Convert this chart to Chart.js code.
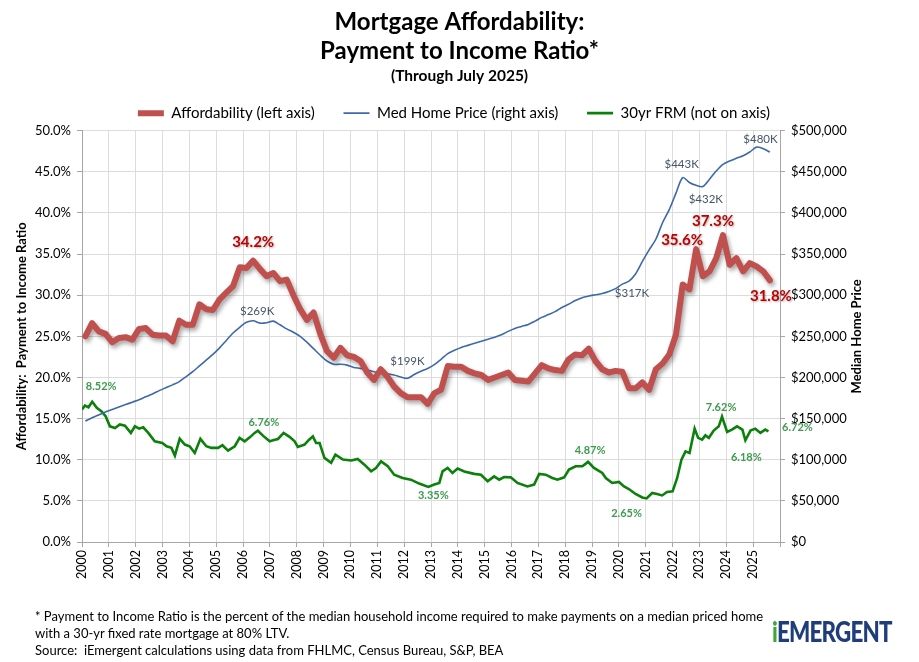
<!DOCTYPE html>
<html>
<head>
<meta charset="utf-8">
<script src="https://cdn.jsdelivr.net/npm/chart.js@4.4.1/dist/chart.umd.min.js"></script>
<style>
  html, body { margin: 0; padding: 0; background: #fff; }
  #wrap { position: relative; width: 919px; height: 662px; font-family: Lato, "Open Sans", sans-serif; }
  #chart { position: absolute; left: 0; top: 0; }
  .note { position: absolute; left: 35px; top: 608px; font-size: 13px; line-height: 17px; color: #000; }
  .logo { position: absolute; left: 772px; top: 614px; font-size: 28px; font-weight: 900; color: #1F3D7A;
          letter-spacing: -1px; transform: scaleX(0.8); transform-origin: left top; }
  .logo span { color: #3BAA35; }
</style>
</head>
<body>
<div id="wrap">
  <canvas id="chart" width="919" height="662"></canvas>
  <div class="note">* Payment to Income Ratio is the percent of the median household income required to make payments on a median priced home<br>with a 30-yr fixed rate mortgage at 80% LTV.<br>Source:&nbsp; iEmergent calculations using data from FHLMC, Census Bureau, S&amp;P, BEA</div>
  <div class="logo"><span>i</span>EMERGENT</div>
</div>
<script>
// quarterly series (affordability % and median home price in $K)
const quarters = Array.from({length: 103}, (_, i) => 2000.125 + i * 0.25);

const affordability = [
  25.0, 26.6, 25.6, 25.3, 24.3, 24.8, 24.9, 24.6, 25.9, 26.0,
  25.2, 25.1, 25.1, 24.4, 26.9, 26.4, 26.4, 28.9, 28.3, 28.2,
  29.5, 30.3, 31.1, 33.4, 33.3, 34.2, 33.2, 32.3, 32.7, 31.7,
  31.9, 30.0, 28.3, 27.0, 27.9, 25.3, 23.2, 22.4, 23.6, 22.7,
  22.5, 22.0, 20.6, 19.7, 21.0, 20.1, 18.9, 18.1, 17.6, 17.6,
  17.6, 16.8, 18.1, 18.5, 21.4, 21.3, 21.3, 20.8, 20.5, 20.3,
  19.7, 20.0, 20.3, 20.6, 19.7, 19.6, 19.5, 20.5, 21.5, 21.1,
  20.9, 20.8, 22.2, 22.8, 22.7, 23.5, 22.0, 21.0, 20.6, 20.8,
  20.7, 18.7, 18.7, 19.4, 18.5, 21.0, 21.7, 22.8, 25.2, 31.3,
  30.7, 35.6, 32.3, 32.9, 34.5, 37.3, 33.7, 34.5, 32.9, 33.9,
  33.5, 32.9, 31.8
];

const homePriceK = [
  147, 151, 154.5, 158, 161, 164, 167, 170, 173, 176.5,
  180, 184, 187.5, 191, 195, 201, 207, 214, 221, 228,
  236, 245, 254, 261, 267, 269, 266, 266.5, 268.5, 264,
  259, 255, 250, 243, 235, 227, 220, 216, 216, 215,
  212, 211, 209, 207, 205.5, 204.5, 203, 200.5, 199, 203.5,
  207.5, 211, 215.5, 222, 229, 233, 236.5, 239, 241.5, 244,
  246.5, 249, 252, 256, 259.5, 262, 264.5, 268.5, 273, 276.5,
  280, 285, 289, 293.5, 297, 299, 300.5, 302, 304.5, 308,
  313.5, 317, 326, 341, 355, 368, 388, 404, 424, 443,
  437, 433.5, 432, 441, 451, 459, 463, 466.5, 469.5, 474,
  480, 478, 474
];

// 30yr fixed mortgage rate, %
const frmDates = [
  2000.00, 2000.11, 2000.24, 2000.38, 2000.55, 2000.73, 2000.88, 2001.04, 2001.23, 2001.41,
  2001.60, 2001.82, 2001.97, 2002.13, 2002.28, 2002.47, 2002.71, 2002.99, 2003.15, 2003.33,
  2003.46, 2003.64, 2003.83, 2004.01, 2004.20, 2004.41, 2004.63, 2004.82, 2005.07, 2005.23,
  2005.44, 2005.69, 2005.87, 2006.06, 2006.25, 2006.43, 2006.55, 2006.75, 2006.99, 2007.15,
  2007.30, 2007.51, 2007.73, 2007.92, 2008.04, 2008.29, 2008.45, 2008.60, 2008.72, 2008.85,
  2009.03, 2009.28, 2009.44, 2009.72, 2010.03, 2010.27, 2010.52, 2010.77, 2010.95, 2011.14,
  2011.39, 2011.63, 2011.94, 2012.25, 2012.56, 2012.90, 2013.12, 2013.31, 2013.43, 2013.62,
  2013.80, 2013.99, 2014.24, 2014.61, 2014.86, 2015.11, 2015.35, 2015.54, 2015.72, 2015.97,
  2016.22, 2016.59, 2016.84, 2017.03, 2017.27, 2017.52, 2017.71, 2017.96, 2018.14, 2018.39,
  2018.64, 2018.85, 2019.07, 2019.38, 2019.51, 2019.75, 2020.00, 2020.19, 2020.37, 2020.62,
  2020.87, 2021.03, 2021.24, 2021.42, 2021.61, 2021.79, 2022.00, 2022.17, 2022.33, 2022.48,
  2022.63, 2022.82, 2022.95, 2023.10, 2023.22, 2023.35, 2023.53, 2023.72, 2023.84, 2024.03,
  2024.21, 2024.40, 2024.60, 2024.71, 2024.90, 2025.08, 2025.27, 2025.45, 2025.57
];
const frmRates = [
  8.05, 8.29, 8.19, 8.52, 8.15, 7.94, 7.64, 7.03, 6.93, 7.14,
  7.07, 6.63, 7.03, 6.89, 6.97, 6.63, 6.12, 6.02, 5.82, 5.72,
  5.25, 6.28, 5.92, 5.82, 5.41, 6.27, 5.82, 5.72, 5.72, 5.88,
  5.55, 5.82, 6.33, 6.12, 6.36, 6.63, 6.76, 6.45, 6.12, 6.20,
  6.26, 6.63, 6.39, 6.12, 5.78, 5.92, 6.20, 6.42, 6.02, 6.02,
  5.11, 4.81, 5.31, 5.01, 4.95, 5.05, 4.70, 4.30, 4.50, 4.90,
  4.60, 4.09, 3.89, 3.79, 3.55, 3.35, 3.49, 3.59, 4.29, 4.50,
  4.20, 4.46, 4.29, 4.14, 4.09, 3.69, 3.99, 3.79, 3.95, 3.93,
  3.59, 3.38, 3.49, 4.14, 4.09, 3.89, 3.79, 3.93, 4.40, 4.60,
  4.60, 4.87, 4.50, 4.20, 3.89, 3.59, 3.65, 3.38, 3.22, 2.92,
  2.71, 2.65, 2.98, 2.92, 2.83, 3.04, 3.08, 3.89, 5.01, 5.51,
  5.41, 6.89, 6.33, 6.22, 6.48, 6.33, 6.77, 7.03, 7.62, 6.69,
  6.83, 7.03, 6.83, 6.18, 6.77, 6.89, 6.63, 6.83, 6.72
];

const seriesNames = ['Affordability (left axis)', 'Med Home Price (right axis)', '30yr FRM (not on axis)'];

const FONT = 'Lato, "Open Sans", sans-serif';

// shadow under the thick affordability line
const lineShadow = {
  id: 'lineShadow',
  beforeDatasetDraw(chart, args) {
    if (args.index !== 0) return;
    const ctx = chart.ctx;
    ctx.save();
    ctx.shadowColor = 'rgba(0,0,0,0.35)';
    ctx.shadowBlur = 4;
    ctx.shadowOffsetX = 2;
    ctx.shadowOffsetY = 3;
  },
  afterDatasetDraw(chart, args) {
    if (args.index !== 0) return;
    chart.ctx.restore();
  }
};

// callouts: anchored on a data point, text comes from the value
const callouts = [
  {ds: 0, x: 2006.375, dx: 0, dy: -18},
  {ds: 0, x: 2022.875, dx: -14, dy: -9},
  {ds: 0, x: 2023.875, dx: -10, dy: -14},
  {ds: 0, x: 2025.625, dx: 1, dy: 16},
  {ds: 1, x: 2006.375, dx: 4, dy: -9},
  {ds: 1, x: 2012.125, dx: 0, dy: -17},
  {ds: 1, x: 2020.375, dx: 3, dy: 12},
  {ds: 1, x: 2022.375, dx: -1, dy: -13},
  {ds: 1, x: 2023.125, dx: 3, dy: 13},
  {ds: 1, x: 2025.125, dx: 4, dy: -8},
  {ds: 2, x: 2000.38, dx: 9, dy: -15},
  {ds: 2, x: 2006.55, dx: 6, dy: -8},
  {ds: 2, x: 2012.90, dx: 5, dy: 9},
  {ds: 2, x: 2018.85, dx: 2, dy: -11},
  {ds: 2, x: 2021.03, dx: -20, dy: 15},
  {ds: 2, x: 2023.84, dx: -1, dy: -9},
  {ds: 2, x: 2024.71, dx: 1, dy: 17},
  {ds: 2, x: 2025.57, dx: 29, dy: -4}
];
const calloutStyle = [
  {font: 'bold 15px ' + FONT, color: '#C00000', fmt: v => v.toFixed(1) + '%', shadow: true},
  {font: '11.5px ' + FONT, color: '#44546A', fmt: v => '$' + Math.round(v / 1000) + 'K'},
  {font: 'bold 11px ' + FONT, color: '#3E9B4E', fmt: v => v.toFixed(2) + '%'}
];

const callout = {
  id: 'callout',
  afterDraw(chart) {
    const ctx = chart.ctx;
    ctx.save();
    ctx.textAlign = 'center';
    ctx.textBaseline = 'middle';
    callouts.forEach(c => {
      const meta = chart.getDatasetMeta(c.ds);
      const data = chart.data.datasets[c.ds].data;
      let best = 0;
      data.forEach((p, i) => { if (Math.abs(p.x - c.x) < Math.abs(data[best].x - c.x)) best = i; });
      const el = meta.data[best];
      const st = calloutStyle[c.ds];
      ctx.font = st.font;
      ctx.fillStyle = st.color;
      if (st.shadow) {
        ctx.shadowColor = 'rgba(0,0,0,0.3)';
        ctx.shadowBlur = 2;
        ctx.shadowOffsetX = 1;
        ctx.shadowOffsetY = 1;
      } else {
        ctx.shadowColor = 'transparent';
      }
      ctx.fillText(st.fmt(data[best].y), el.x + c.dx, el.y + c.dy);
    });
    // right axis title, reading upward
    const area = chart.chartArea;
    ctx.shadowColor = 'transparent';
    ctx.font = 'bold 13px ' + FONT;
    ctx.fillStyle = '#000';
    ctx.translate(area.right + 77, (area.top + area.bottom) / 2);
    ctx.rotate(-Math.PI / 2);
    ctx.fillText('Median Home Price', 0, 0);
    ctx.restore();
  }
};

const toPoints = (xs, ys) => xs.map((x, i) => ({x: x, y: ys[i]}));

new Chart(document.getElementById('chart'), {
  type: 'line',
  data: {
    datasets: [{
      label: seriesNames[0],
      data: toPoints(quarters, affordability),
      yAxisID: 'y',
      borderColor: '#C0504D',
      backgroundColor: '#C0504D',
      borderWidth: 6,
      borderJoinStyle: 'round',
      borderCapStyle: 'round',
      pointRadius: 0,
      tension: 0
    }, {
      label: seriesNames[1],
      data: toPoints(quarters, homePriceK.map(v => v * 1000)),
      yAxisID: 'y1',
      borderColor: '#3D69AA',
      backgroundColor: '#3D69AA',
      borderWidth: 1.6,
      pointRadius: 0,
      tension: 0.3
    }, {
      label: seriesNames[2],
      data: toPoints(frmDates, frmRates),
      yAxisID: 'y2',
      borderColor: '#0B800B',
      backgroundColor: '#0B800B',
      borderWidth: 2.6,
      pointRadius: 0,
      tension: 0
    }]
  },
  options: {
    responsive: false,
    animation: false,
    layout: { padding: { left: 0, right: 0, top: 0, bottom: 80 } },
    plugins: {
      title: {
        display: true,
        text: ['Mortgage Affordability:', 'Payment to Income Ratio*'],
        color: '#000',
        font: { family: FONT, size: 24, weight: 'bold', lineHeight: 1.2 },
        padding: { top: 8, bottom: 0 }
      },
      subtitle: {
        display: true,
        text: '(Through July 2025)',
        color: '#000',
        font: { family: FONT, size: 15.5, weight: 'bold', lineHeight: 1.1 },
        padding: { top: 2, bottom: 11 }
      },
      legend: {
        display: true,
        position: 'top',
        labels: {
          usePointStyle: true,
          pointStyle: 'line',
          pointStyleWidth: 26,
          padding: 10,
          color: '#000',
          font: { family: FONT, size: 15 },
          // wider gaps between the three entries, block nudged left
          generateLabels: chart => {
            const items = Chart.defaults.plugins.legend.labels.generateLabels(chart);
            items.forEach((it, i) => { it.text += (i < items.length - 1) ? '\u2003\u2002' : '\u2003'; });
            return items;
          }
        }
      },
      tooltip: { enabled: false }
    },
    scales: {
      x: {
        type: 'linear',
        min: 2000,
        max: 2026,
        ticks: {
          stepSize: 1,
          autoSkip: false,
          maxRotation: 90,
          minRotation: 90,
          padding: 3,
          color: '#000',
          font: { family: FONT, size: 12.5 },
          callback: v => (v < 2026 ? String(v) : '')
        },
        grid: { color: '#DCDCDC', tickColor: '#A6A6A6', tickLength: 5 },
        border: { color: '#A6A6A6' },
        afterFit: s => { s.height = 40; }
      },
      y: {
        position: 'left',
        min: 0,
        max: 50,
        ticks: {
          stepSize: 5,
          padding: 6,
          color: '#000',
          font: { family: FONT, size: 13 },
          callback: v => v.toFixed(1) + '%'
        },
        grid: { color: '#DCDCDC', tickColor: '#A6A6A6', tickLength: 5 },
        border: { color: '#A6A6A6' },
        title: {
          display: true,
          text: 'Affordability:  Payment to Income Ratio',
          color: '#000',
          font: { family: FONT, size: 13, weight: 'bold' },
          padding: { top: 14, bottom: 0 }
        },
        afterFit: s => { s.width = 82; }
      },
      y1: {
        position: 'right',
        min: 0,
        max: 500000,
        ticks: {
          stepSize: 50000,
          padding: 6,
          color: '#000',
          font: { family: FONT, size: 13 },
          callback: v => '$' + v.toLocaleString('en-US')
        },
        grid: { drawOnChartArea: false, tickColor: '#A6A6A6', tickLength: 5 },
        border: { color: '#A6A6A6' },
        afterFit: s => { s.width = 139; }
      },
      y2: {
        display: false,
        min: 0,
        max: 25
      }
    }
  },
  plugins: [lineShadow, callout]
});
</script>
</body>
</html>
